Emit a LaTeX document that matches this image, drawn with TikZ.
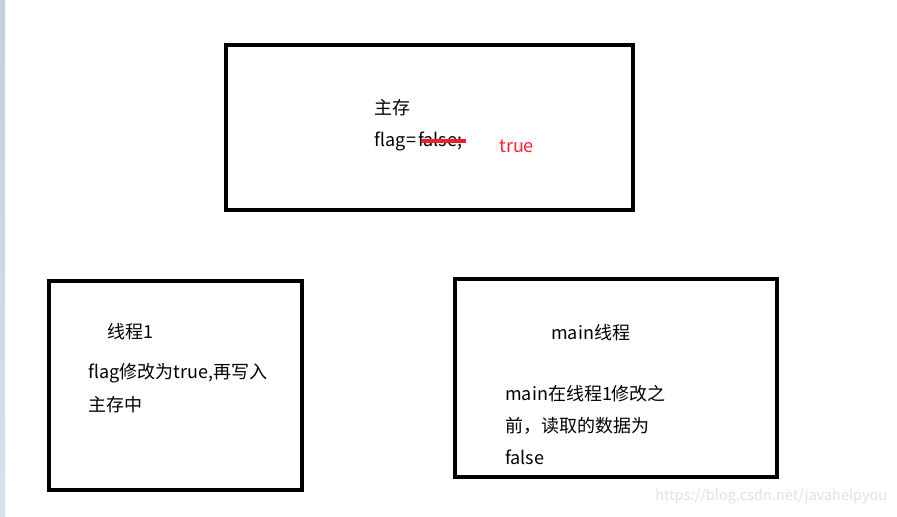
\documentclass[tikz,border=0pt]{standalone}
\usepackage{fontspec}
\setmainfont{Noto Sans CJK SC}
\definecolor{strikered}{HTML}{E8202A}
\definecolor{textred}{HTML}{FF2030}
\definecolor{wm}{HTML}{E2E2E2}
\begin{document}
\begin{tikzpicture}[x=0.75pt,y=-0.75pt,
  box/.style={draw=black,line width=3pt},
  txt/.style={anchor=west,inner sep=0pt,font=\fontsize{13.5pt}{15pt}\selectfont,text=black}]
\useasboundingbox (0,0) rectangle (897,517);
\fill[white] (0,0) rectangle (897,517);
\shade[top color={rgb,255:red,197;green,206;blue,223},bottom color={rgb,255:red,216;green,224;blue,238}] (0,0) rectangle (5,517);
% boxes
\draw[box] (226,45) rectangle (633,210);
\draw[box] (49,281) rectangle (302,490);
\draw[box] (455,279) rectangle (777,477);
% main memory text
\node[txt] (zc) at (374,108) {主存};
\node[txt] (flag) at (374,141) {flag\kern1pt=\kern1pt false;};
\coordinate (s1) at (421,141);
\coordinate (s2) at (466,141);
\draw[strikered,line width=2.4pt] (s1) -- (s2);
\node[txt,text=textred] (tr) at (499,146) {true};
% thread 1
\node[txt] (t1) at (107,332) {线程1};
\node[txt] (t1a) at (88,373) {flag修改为true,再写入};
\node[txt] (t1b) at (88,405) {主存中};
% main thread
\node[txt] (mt) at (551,333) {main线程};
\node[txt] (m1) at (505,394) {main在线程1修改之};
\node[txt] (m2) at (505,426) {前，读取的数据为};
\node[txt] (m3) at (505,457) {false};
% watermark
\node[anchor=west,inner sep=0pt,text=wm,font=\fontsize{10.9pt}{12pt}\selectfont] (wmk) at (655,497) {https://blog.csdn.net/javahelpyou};
\end{tikzpicture}
\end{document}
